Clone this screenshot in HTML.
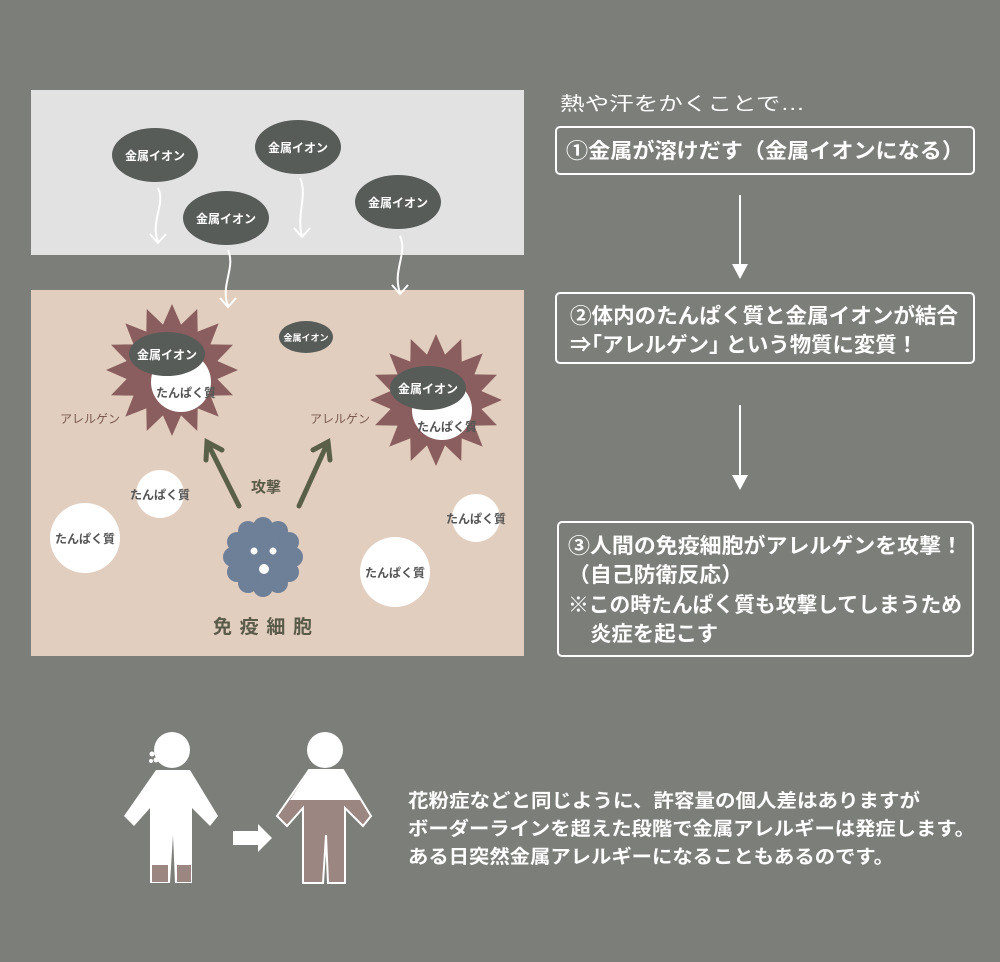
<!DOCTYPE html>
<html><head><meta charset="utf-8"><style>
html,body{margin:0;padding:0;background:#7b7e79;}
svg{display:block;font-family:"Liberation Sans","Noto Sans CJK JP",sans-serif;}
</style></head><body>
<svg width="1000" height="962" viewBox="0 0 1000 962" xmlns="http://www.w3.org/2000/svg">
<defs>
<polygon id="star" points="100,0 68.7,13.7 92.4,38.3 58.2,38.9 70.7,70.7 38.9,58.2 38.3,92.4 13.7,68.7 0,100 -13.7,68.7 -38.3,92.4 -38.9,58.2 -70.7,70.7 -58.2,38.9 -92.4,38.3 -68.7,13.7 -100,0 -68.7,-13.7 -92.4,-38.3 -58.2,-38.9 -70.7,-70.7 -38.9,-58.2 -38.3,-92.4 -13.7,-68.7 0,-100 13.7,-68.7 38.3,-92.4 38.9,-58.2 70.7,-70.7 58.2,-38.9 92.4,-38.3 68.7,-13.7"/>
</defs>
<rect width="1000" height="962" fill="#7b7e79"/>
<rect x="31" y="90" width="493" height="165" fill="#e2e2e2"/>
<rect x="31" y="290" width="493" height="366" fill="#e2cebf"/>

<g fill="none" stroke="#fff" stroke-width="2">
<path d="M158,188 C166,205 150,220 158,242 M150,234 L158,243 L166,234"/>
<path d="M300,178 C308,195 296,215 302,236 M294,228 L302,237 L310,228"/>
<path d="M228,250 C236,268 220,285 228,306 M220,298 L228,307 L236,298"/>
<path d="M400,236 C408,254 392,270 400,293 M392,285 L400,294 L408,285"/>
</g>

<g font-weight="bold" font-size="12" fill="#fff" text-anchor="middle">
<ellipse cx="155" cy="155" rx="43" ry="27" fill="#585c59"/><text x="155" y="160">金属イオン</text>
<ellipse cx="298" cy="147" rx="43" ry="27" fill="#585c59"/><text x="298" y="152">金属イオン</text>
<ellipse cx="226" cy="218" rx="43" ry="27" fill="#585c59"/><text x="226" y="223">金属イオン</text>
<ellipse cx="398" cy="202" rx="43" ry="27" fill="#585c59"/><text x="398" y="207">金属イオン</text>
</g>

<use href="#star" transform="translate(172,370) scale(0.66)" fill="#8a5e5e"/>
<use href="#star" transform="translate(436,400) scale(0.66)" fill="#8a5e5e"/>
<circle cx="181" cy="382" r="30" fill="#fff"/>
<circle cx="442" cy="410" r="30" fill="#fff"/>
<text x="186" y="397" font-size="12" font-weight="bold" fill="#555" text-anchor="middle">たんぱく質</text>
<text x="447" y="431" font-size="12" font-weight="bold" fill="#555" text-anchor="middle">たんぱく質</text>
<ellipse cx="167" cy="354" rx="38" ry="22" fill="#585c59"/>
<text x="167" y="359" font-size="12" font-weight="bold" fill="#fff" text-anchor="middle">金属イオン</text>
<ellipse cx="428" cy="388" rx="38" ry="22" fill="#585c59"/>
<text x="428" y="393" font-size="12" font-weight="bold" fill="#fff" text-anchor="middle">金属イオン</text>
<ellipse cx="306" cy="337" rx="27" ry="16" fill="#585c59"/>
<text x="306" y="341" font-size="9" font-weight="bold" fill="#fff" text-anchor="middle">金属イオン</text>

<g font-size="12" fill="#7a5a50" text-anchor="middle">
<text x="90" y="423">アレルゲン</text><text x="340" y="423">アレルゲン</text>
</g>

<g fill="#fff"><circle cx="160" cy="494" r="24"/><circle cx="85" cy="538" r="35"/><circle cx="476" cy="518" r="24"/><circle cx="395" cy="572" r="35"/></g>
<g font-size="12" fill="#555" text-anchor="middle" font-weight="bold">
<text x="160" y="499">たんぱく質</text><text x="85" y="543">たんぱく質</text><text x="476" y="523">たんぱく質</text><text x="395" y="577">たんぱく質</text>
</g>

<g stroke="#5a6048" stroke-width="5" fill="none" stroke-linecap="round">
<path d="M239,506 L207,442 M206,460 L207,442 L222,450"/>
<path d="M299,506 L328,442 M313,450 L328,442 L330,460"/>
</g>
<text x="266" y="492" font-size="15" font-weight="bold" fill="#5a5a48" text-anchor="middle">攻撃</text>

<g fill="#6e7f98">
<circle cx="263" cy="557" r="33"/>
<circle cx="293" cy="557" r="10"/><circle cx="289" cy="572" r="10"/><circle cx="278" cy="583" r="10"/><circle cx="263" cy="587" r="10"/><circle cx="248" cy="583" r="10"/><circle cx="237" cy="572" r="10"/><circle cx="233" cy="557" r="10"/><circle cx="237" cy="542" r="10"/><circle cx="248" cy="531" r="10"/><circle cx="263" cy="527" r="10"/><circle cx="278" cy="531" r="10"/><circle cx="289" cy="542" r="10"/>
</g>
<g fill="#fff"><circle cx="254" cy="551" r="3.5"/><circle cx="273" cy="551" r="3.5"/><circle cx="264" cy="569" r="5"/></g>
<text x="213" y="633" font-size="19" font-weight="bold" fill="#5a5a48" textLength="99" lengthAdjust="spacing">免疫細胞</text>

<text x="560" y="110" font-size="19" fill="#fff" textLength="245" lengthAdjust="spacingAndGlyphs">熱や汗をかくことで…</text>
<rect x="556" y="127" width="418" height="47" rx="4" fill="none" stroke="#fff" stroke-width="2"/>
<text x="566" y="158" font-size="21" font-weight="bold" fill="#fff" textLength="398" lengthAdjust="spacingAndGlyphs">①金属が溶けだす（金属イオンになる）</text>
<line x1="740" y1="195" x2="740" y2="265" stroke="#fff" stroke-width="2"/>
<polygon points="732,264 748,264 740,279" fill="#fff"/>
<rect x="556" y="293" width="418" height="70" rx="4" fill="none" stroke="#fff" stroke-width="2"/>
<text x="570" y="323" font-size="21" font-weight="bold" fill="#fff" textLength="388" lengthAdjust="spacingAndGlyphs">②体内のたんぱく質と金属イオンが結合</text>
<text x="570" y="352" font-size="21" font-weight="bold" fill="#fff" textLength="348" lengthAdjust="spacingAndGlyphs">⇒｢アレルゲン｣ という物質に変質！</text>
<line x1="740" y1="405" x2="740" y2="476" stroke="#fff" stroke-width="2"/>
<polygon points="732,475 748,475 740,490" fill="#fff"/>
<rect x="558" y="522" width="415" height="134" rx="4" fill="none" stroke="#fff" stroke-width="2"/>
<g font-size="21" font-weight="bold" fill="#fff">
<text x="568" y="553" textLength="395" lengthAdjust="spacingAndGlyphs">③人間の免疫細胞がアレルゲンを攻撃！</text>
<text x="568" y="582" textLength="175" lengthAdjust="spacingAndGlyphs">（自己防衛反応）</text>
<text x="568" y="612" textLength="394" lengthAdjust="spacingAndGlyphs">※この時たんぱく質も攻撃してしまうため</text>
<text x="590" y="641" textLength="128" lengthAdjust="spacingAndGlyphs">炎症を起こす</text>
</g>

<g>
<circle cx="172" cy="750" r="18" fill="#fff"/>
<circle cx="152" cy="754" r="2.5" fill="#fff"/><circle cx="156" cy="760" r="2.5" fill="#fff"/><circle cx="151" cy="761" r="2" fill="#fff"/>
<polygon points="156,770 190,770 218,816 210,826 192,808 192,883 175,883 173,835 170,883 150,883 150,808 134,826 124,816" fill="#fff"/>
<rect x="152" y="865" width="16" height="17" fill="#9b8682"/>
<rect x="177" y="865" width="14" height="17" fill="#9b8682"/>
</g>
<polygon points="233,831 258,831 258,824 272,838 258,852 258,845 233,845" fill="#fff"/>
<g>
<circle cx="325" cy="750" r="18" fill="#fff"/>
<polygon points="309,770 343,770 371,816 363,826 345,808 345,883 328,883 326,835 323,883 303,883 303,808 287,826 277,816" fill="#9b8682" stroke="#fff" stroke-width="2"/>
<polygon points="309,771 343,771 361,800 290,800" fill="#fff"/>
</g>

<g font-size="19" fill="#fff" font-weight="bold">
<text x="408" y="807" textLength="512" lengthAdjust="spacingAndGlyphs">花粉症などと同じように、許容量の個人差はありますが</text>
<text x="408" y="835" textLength="567" lengthAdjust="spacingAndGlyphs">ボーダーラインを超えた段階で金属アレルギーは発症します。</text>
<text x="408" y="863" textLength="486" lengthAdjust="spacingAndGlyphs">ある日突然金属アレルギーになることもあるのです。</text>
</g>
</svg>
</body></html>
